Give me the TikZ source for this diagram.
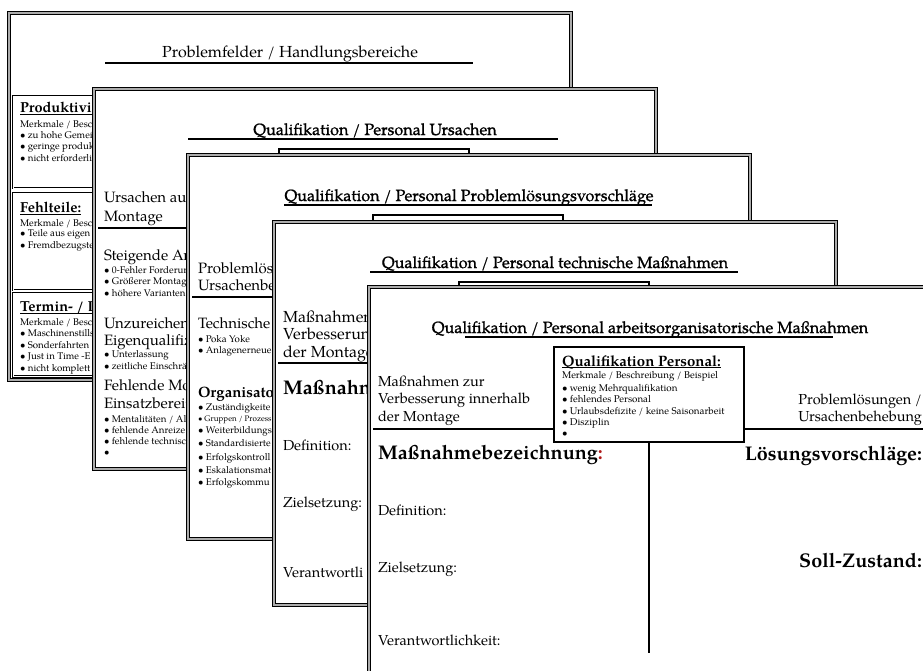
\documentclass[tikz,border=0pt]{standalone}
\usepackage{fontspec}
\setmainfont{TeX Gyre Pagella}
\newfontfamily\headfont{TeX Gyre Pagella}[FakeBold=1]
\definecolor{colonred}{RGB}{175,25,25}
\newcommand\setfs[1]{\fontsize{#1}{#1}\selectfont}
\newcommand\bul{\textbullet\ }
\begin{document}
\begin{tikzpicture}[x=1pt,y=-1pt,
  slidebg/.style={fill=white},
  slideframe/.style={draw=black, line width=1.1pt, double=gray!65, double distance=2.1pt},
  titlerule/.style={draw=black, line width=1.3pt},
  divider/.style={draw=black, line width=1.1pt},
  headrule/.style={draw=black, line width=0.8pt},
  fieldbox/.style={draw=black, line width=0.8pt, double, double distance=0.8pt},
  infobox/.style={draw=black, line width=1.2pt, fill=white, inner sep=0pt,
                  minimum width=190pt, minimum height=95pt},
  lt/.style={anchor=base west, inner sep=0pt, outer sep=0pt},
  rt/.style={anchor=base east, inner sep=0pt, outer sep=0pt},
  ct/.style={anchor=base, inner sep=0pt, outer sep=0pt},
  plainhead/.style={ct, font=\setfs{16}},
  head/.style={ct, font=\headfont\setfs{16.2}},
  big/.style={lt, font=\setfs{15}},
  bigb/.style={lt, font=\bfseries\setfs{15}},
  field/.style={lt, font=\setfs{14.5}},
  fieldr/.style={rt, font=\setfs{14.5}},
  label/.style={lt, font=\bfseries\setfs{19.8}},
  labelr/.style={rt, font=\bfseries\setfs{19.8}},
  boxhead/.style={lt, font=\bfseries\setfs{14.5}},
  small/.style={lt, font=\setfs{9.7}},
  boxsmall/.style={lt, font=\setfs{9.8}},
  tiny/.style={lt, font=\setfs{8}},
]
\useasboundingbox (0,0) rectangle (923,671);
\clip (0,0) rectangle (923,671);

% ---------- slide 1: problem fields ----------
\begin{scope}[shift={(7,11)}]
  \path[slidebg] (0,0) rectangle (566,371);
  \draw[slideframe] (2.2,2.2) rectangle (563.8,368.8);
  \node[plainhead] (s1title) at (283,47) {Problemfelder / Handlungsbereiche};
  \coordinate (s1ra) at (98,52); \coordinate (s1rb) at (466,52);
  \draw[titlerule] (s1ra) -- (s1rb);
  \draw[fieldbox] (6,85) rectangle (558,177);
  \draw[fieldbox] (6,182) rectangle (558,279);
  \draw[fieldbox] (6,282) rectangle (558,365.5);
  \node[boxhead] (s1ha) at (13,101.5) {Produktivi};
  \draw[headrule] ([yshift=-2pt]s1ha.base west) -- ([yshift=-2pt]s1ha.base east);
  \node[small] (s1ma) at (13,117) {Merkmale / Besc};
  \node[small] (s1a1) at (13,128) {\bul zu hohe Gemei};
  \node[small] (s1a2) at (13,139) {\bul geringe produk};
  \node[small] (s1a3) at (13,151) {\bul nicht erforderli};
  \node[boxhead] (s1hb) at (13,201.5) {Fehlteile:};
  \draw[headrule] ([yshift=-2pt]s1hb.base west) -- ([yshift=-2pt]s1hb.base east);
  \node[small] (s1mb) at (13,215) {Merkmale / Besc};
  \node[small] (s1b1) at (13,225.5) {\bul Teile aus eigen};
  \node[small] (s1b2) at (13,237) {\bul Fremdbezugste};
  \node[boxhead] (s1hc) at (13,300.5) {Termin- / L};
  \draw[headrule] ([yshift=-2pt]s1hc.base west) -- ([yshift=-2pt]s1hc.base east);
  \node[small] (s1mc) at (13,314) {Merkmale / Besc};
  \node[small] (s1c1) at (13,325) {\bul Maschinenstills};
  \node[small] (s1c2) at (13,337) {\bul Sonderfahrten};
  \node[small] (s1c3) at (13,348.5) {\bul Just in Time -E};
  \node[small] (s1c4) at (13,360) {\bul nicht komplett};
\end{scope}

% ---------- slide 2: causes ----------
\begin{scope}[shift={(92,87)}]
  \path[slidebg] (0,0) rectangle (566,384);
  \draw[slideframe] (2.2,2.2) rectangle (563.8,381.8);
  \node[head] (s2title) at (283,48) {Qualifikation / Personal Ursachen};
  \coordinate (s2ra) at (96,52); \coordinate (s2rb) at (466,52);
  \draw[titlerule] (s2ra) -- (s2rb);
  \node[infobox] (s2box) at (282,109.5) {};
  \node[big] (s2l1) at (12,116) {Ursachen aus};
  \node[big] (s2l2) at (12,135) {Montage};
  \coordinate (s2dl) at (6,141);
  \draw[divider] (s2dl) -- (s2box.west |- s2dl);
  \node[big] (s2g1) at (12,173) {Steigende An};
  \node[small] (s2g1a) at (12,186.5) {\bul 0-Fehler Forderun};
  \node[small] (s2g1b) at (12,197.5) {\bul Größerer Montage};
  \node[small] (s2g1c) at (12,209.5) {\bul höhere Varianten};
  \node[big] (s2g2) at (12,241) {Unzureichen};
  \node[big] (s2g2l) at (12,258) {Eigenqualifiz};
  \node[small] (s2g2a) at (12,270.5) {\bul Unterlassung};
  \node[small] (s2g2b) at (12,282.5) {\bul zeitliche Einschrä};
  \node[big] (s2g3) at (12,303) {Fehlende Mo};
  \node[big] (s2g3l) at (12,321) {Einsatzbereit};
  \node[small] (s2g3a) at (12,335.5) {\bul Mentalitäten / Alt};
  \node[small] (s2g3b) at (12,346.5) {\bul fehlende Anreize};
  \node[small] (s2g3c) at (12,357.5) {\bul fehlende technisc};
  \node[small] (s2g3d) at (12,368.5) {\textbullet};
\end{scope}

% ---------- slide 3: solution proposals ----------
\begin{scope}[shift={(186,153)}]
  \path[slidebg] (0,0) rectangle (566,388);
  \draw[slideframe] (2.2,2.2) rectangle (563.8,385.8);
  \node[head] (s3title) at (283,48) {Qualifikation / Personal Problemlösungsvorschläge};
  \coordinate (s3ra) at (98,52); \coordinate (s3rb) at (466,52);
  \draw[titlerule] (s3ra) -- (s3rb);
  \node[infobox] (s3box) at (282,109.5) {};
  \node[big] (s3l1) at (12,120) {Problemlös};
  \node[big] (s3l2) at (12,137) {Ursachenbe};
  \coordinate (s3dl) at (6,144);
  \draw[divider] (s3dl) -- (s3box.west |- s3dl);
  \node[big] (s3t) at (12,175) {Technische};
  \node[small] (s3t1) at (12,189.5) {\bul Poka Yoke};
  \node[small] (s3t2) at (12,200.5) {\bul Anlagenerneue};
  \node[bigb] (s3o) at (12,244) {Organisato};
  \node[small] (s3o1) at (12,257.5) {\bul Zuständigkeite};
  \node[tiny] (s3o2) at (12,268) {\bul Gruppen / Prozess};
  \node[small] (s3o3) at (12,280.5) {\bul Weiterbildungs};
  \node[small] (s3o4) at (12,293.5) {\bul Standardisierte};
  \node[small] (s3o5) at (12,307.5) {\bul Erfolgskontroll};
  \node[small] (s3o6) at (12,320.5) {\bul Eskalationsmat};
  \node[small] (s3o7) at (12,332.5) {\bul Erfolgskommu};
\end{scope}

% ---------- slide 4: technical measures ----------
\begin{scope}[shift={(272,220)}]
  \path[slidebg] (0,0) rectangle (566,387);
  \draw[slideframe] (2.2,2.2) rectangle (563.8,384.8);
  \node[head] (s4title) at (283,48) {Qualifikation / Personal technische Maßnahmen};
  \coordinate (s4ra) at (98,52); \coordinate (s4rb) at (466,52);
  \draw[titlerule] (s4ra) -- (s4rb);
  \node[infobox] (s4box) at (282,109.5) {};
  \node[lt, font=\setfs{16}] (s4l1) at (11,102) {Maßnahmen};
  \node[lt, font=\setfs{16}] (s4l2) at (11,119) {Verbesserung};
  \node[lt, font=\setfs{16}] (s4l3) at (11,137) {der Montage};
  \coordinate (s4dl) at (6,143);
  \draw[divider] (s4dl) -- (s4box.west |- s4dl);
  \node[label] (s4name) at (11,174.5) {Maßnahn};
  \node[field] (s4def) at (11,230.5) {Definition:};
  \node[field] (s4ziel) at (11,287.5) {Zielsetzung:};
  \node[field] (s4ver) at (11,357.5) {Verantwortli};
\end{scope}

% ---------- slide 5: organisational measures ----------
\begin{scope}[shift={(367,285)}]
  \path[slidebg] (0,0) rectangle (566,400);
  \draw[slideframe] (2.2,2.2) rectangle (563.8,397.8);
  \node[head] (s5title) at (283,48) {Qualifikation / Personal arbeitsorganisatorische Maßnahmen};
  \coordinate (s5ra) at (98,52); \coordinate (s5rb) at (466,52);
  \draw[titlerule] (s5ra) -- (s5rb);
  \node[infobox] (s5box) at (282,109.5) {};
  \node[boxhead, font=\bfseries\setfs{15}] (s5bh) at (195,81) {Qualifikation Personal:};
  \draw[headrule] ([yshift=-1.8pt]s5bh.base west) -- ([yshift=-1.8pt]s5bh.base east);
  \node[boxsmall] (s5bm) at (195,93.5) {Merkmale / Beschreibung / Beispiel};
  \node[boxsmall] (s5b1) at (195,106) {\bul wenig Mehrqualifikation};
  \node[boxsmall] (s5b2) at (195,117) {\bul fehlendes Personal};
  \node[boxsmall] (s5b3) at (195,129) {\bul Urlaubsdefizite / keine Saisonarbeit};
  \node[boxsmall] (s5b4) at (195,140) {\bul Disziplin};
  \node[boxsmall] (s5b5) at (195,151.5) {\textbullet};
  \node[field] (s5l1) at (11,101.5) {Maßnahmen zur};
  \node[field] (s5l2) at (11,118.5) {Verbesserung innerhalb};
  \node[field] (s5l3) at (11,136.5) {der Montage};
  \node[fieldr] (s5r1) at (555,119.5) {Problemlösungen /};
  \node[fieldr] (s5r2) at (555,136.5) {Ursachenbehebung};
  \coordinate (s5dl) at (6,144); \coordinate (s5dr) at (566,144);
  \draw[divider] (s5dl) -- (s5box.west |- s5dl);
  \draw[divider] (s5box.east |- s5dr) -- (s5dr);
  \coordinate (s5vend) at (282,368);
  \draw[divider] (s5box.south) -- (s5vend);
  \node[label] (s5name) at (11,174.5) {Maßnahmebezeichnung\textcolor{colonred}{:}};
  \node[field] (s5def) at (11,230.5) {Definition:};
  \node[field] (s5ziel) at (11,287.5) {Zielsetzung:};
  \node[field] (s5ver) at (11,360.5) {Verantwortlichkeit:};
  \node[labelr] (s5loes) at (555,175.5) {Lösungsvorschläge:};
  \node[labelr] (s5soll) at (555,282.5) {Soll-Zustand:};
\end{scope}
\end{tikzpicture}
\end{document}
